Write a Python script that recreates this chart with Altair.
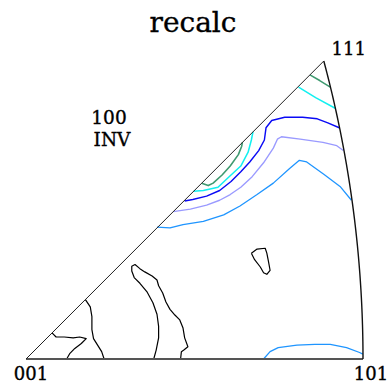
import numpy as np
import pandas as pd
import altair as alt

# Cubic standard triangle in stereographic projection (units x1000).
# Contour lines of the inverse pole figure, listed as (x, y) vertices.
green_top = [(349, 349), (361, 342), (374, 334)]
green_in = [(216, 216), (224, 213), (230, 216), (241, 226), (251, 237),
            (261, 251), (265, 261), (266, 266)]
cyan_top = [(335, 334), (356, 321), (380, 308)]
cyan_in = [(206, 206), (218, 207), (236, 211), (251, 225), (264, 237),
           (273, 254), (277, 269), (279, 279)]
blue_main = [(195, 194), (205, 196), (222, 200), (238, 207), (252, 218),
             (264, 230), (275, 242), (286, 256), (293, 269), (295, 284),
             (302, 293), (318, 297), (340, 297), (358, 295), (371, 290),
             (385, 284)]
lavender_main = [(181, 181), (202, 184), (222, 189), (238, 195), (251, 202),
                 (264, 211), (278, 224), (292, 241), (304, 259), (309, 270),
                 (314, 273), (337, 270), (365, 266), (382, 262), (390, 256)]
sky_main = [(161, 162), (177, 161), (193, 165), (218, 169), (243, 177),
            (263, 188), (284, 202), (304, 216), (324, 234), (336, 244),
            (345, 242), (366, 227), (386, 212), (400, 195)]
sky_low = [(292, 0), (300, 9), (310, 14), (333, 17), (355, 18), (374, 18),
           (394, 14), (410, 8), (414, 6)]
black_island = [(277, 130), (284, 135), (294, 136), (296, 130), (298, 120),
                (300, 109), (296, 104), (292, 106), (288, 113), (281, 122),
                (277, 130)]
black_finger = [(157, 0), (160, 11), (163, 26), (163, 40), (161, 55),
                (156, 69), (149, 82), (140, 93), (133, 100), (130, 108),
                (130, 114), (134, 116), (140, 111), (146, 107), (155, 102),
                (161, 97), (163, 90), (168, 81), (172, 70), (177, 61),
                (183, 54), (189, 48), (193, 38), (195, 26), (199, 15),
                (194, 11), (191, 9), (190, 0)]
black_mid = [(73, 73), (79, 64), (81, 52), (81, 36), (83, 25), (88, 17),
             (93, 9), (96, 0)]
black_low = [(32, 32), (37, 27), (47, 27), (58, 26), (66, 27), (74, 25),
             (68, 19), (60, 13), (54, 7), (50, 0)]

contours = [
    ("black", black_low), ("black", black_mid), ("black", black_finger),
    ("black", black_island), ("sky", sky_low), ("sky", sky_main),
    ("lavender", lavender_main), ("blue", blue_main),
    ("cyan", cyan_in), ("cyan", cyan_top),
    ("green", green_in), ("green", green_top),
]
level_names = ["black", "sky", "lavender", "blue", "cyan", "green"]
level_colors = ["#000000", "#1f95ff", "#9a9aff", "#0a0af5", "#12f0f0", "#3f9a70"]
level_widths = [1.2, 1.6, 1.6, 1.8, 1.6, 1.6]

rows = []
for cid, (lvl, pts) in enumerate(contours):
    for k, (x, y) in enumerate(pts):
        rows.append({"cid": cid, "level": lvl, "k": k, "x": x, "y": y})
cdf = pd.DataFrame(rows)

# Triangle boundary: [001]-[101] and [001]-[111] straight, [101]-[111] great circle
def stereo(v):
    v = np.asarray(v, float)
    v = v / np.linalg.norm(v)
    return 1000 * v[0] / (1 + v[2]), 1000 * v[1] / (1 + v[2])

p001 = stereo([0, 0, 1])
p101 = stereo([1, 0, 1])
p111 = stereo([1, 1, 1])
arc = [stereo([1, t, 1]) for t in np.linspace(0, 1, 60)]

base_df = pd.DataFrame({"x": [p001[0], p101[0]], "y": [p001[1], p101[1]], "k": [0, 1]})
diag_df = pd.DataFrame({"x": [p001[0], p111[0]], "y": [p001[1], p111[1]], "k": [0, 1]})
arc_df = pd.DataFrame({"x": [a[0] for a in arc], "y": [a[1] for a in arc],
                       "k": list(range(len(arc)))})

xs = alt.Scale(domain=[0, p101[0]], nice=False, zero=False)
ys = alt.Scale(domain=[0, p111[1]], nice=False, zero=False)
X = alt.X("x:Q", scale=xs, axis=None)
Y = alt.Y("y:Q", scale=ys, axis=None)

base_line = alt.Chart(base_df).mark_line(color="#555555", strokeWidth=2).encode(
    x=X, y=Y, order="k:Q")
diag_line = alt.Chart(diag_df).mark_line(color="#222222", strokeWidth=1).encode(
    x=X, y=Y, order="k:Q")
arc_line = alt.Chart(arc_df).mark_line(color="#111111", strokeWidth=1.4).encode(
    x=X, y=Y, order="k:Q")

lines = alt.Chart(cdf).mark_line(strokeJoin="round").encode(
    x=X, y=Y,
    detail="cid:N",
    order="k:Q",
    color=alt.Color("level:N", scale=alt.Scale(domain=level_names, range=level_colors),
                    legend=None),
    strokeWidth=alt.StrokeWidth("level:N",
                                scale=alt.Scale(domain=level_names, range=level_widths),
                                legend=None),
)

FONT = "DejaVu Serif"
TXT = dict(font=FONT, color="#000", stroke="#000", strokeWidth=0.35,
           baseline="alphabetic")
pole_df = pd.DataFrame({
    "x": [p001[0], p101[0], p111[0]],
    "y": [p001[1], p101[1], p111[1]],
    "label": ["001", "101", "111"],
})
lbl001 = alt.Chart(pole_df.iloc[[0]]).mark_text(
    fontSize=18, dx=5, dy=21, **TXT).encode(x=X, y=Y, text="label:N")
lbl101 = alt.Chart(pole_df.iloc[[1]]).mark_text(
    fontSize=18, dx=8, dy=21, **TXT).encode(x=X, y=Y, text="label:N")
lbl111 = alt.Chart(pole_df.iloc[[2]]).mark_text(
    fontSize=18, dx=25, dy=-6, **TXT).encode(x=X, y=Y, text="label:N")

note_df = pd.DataFrame({"t": ["100", "INV"], "px": [83, 86], "py": [63, 85]})
notes = alt.Chart(note_df).mark_text(fontSize=18.5, **TXT).encode(
    x=alt.X("px:Q", scale=None), y=alt.Y("py:Q", scale=None), text="t:N")

title_df = pd.DataFrame({"t": ["recalc"], "px": [167], "py": [-29]})
title = alt.Chart(title_df).mark_text(fontSize=28, **TXT).encode(
    x=alt.X("px:Q", scale=None), y=alt.Y("py:Q", scale=None), text="t:N")

chart = alt.layer(
    lines, base_line, diag_line, arc_line, lbl001, lbl101, lbl111, notes, title
).properties(
    width=337, height=298,
    autosize=alt.AutoSizeParams(type="none"),
    padding={"left": 26, "top": 61, "right": 29, "bottom": 28},
    background="white",
).configure_view(stroke=None)

chart.save("out.html", embed_options={"renderer": "svg", "actions": False})
